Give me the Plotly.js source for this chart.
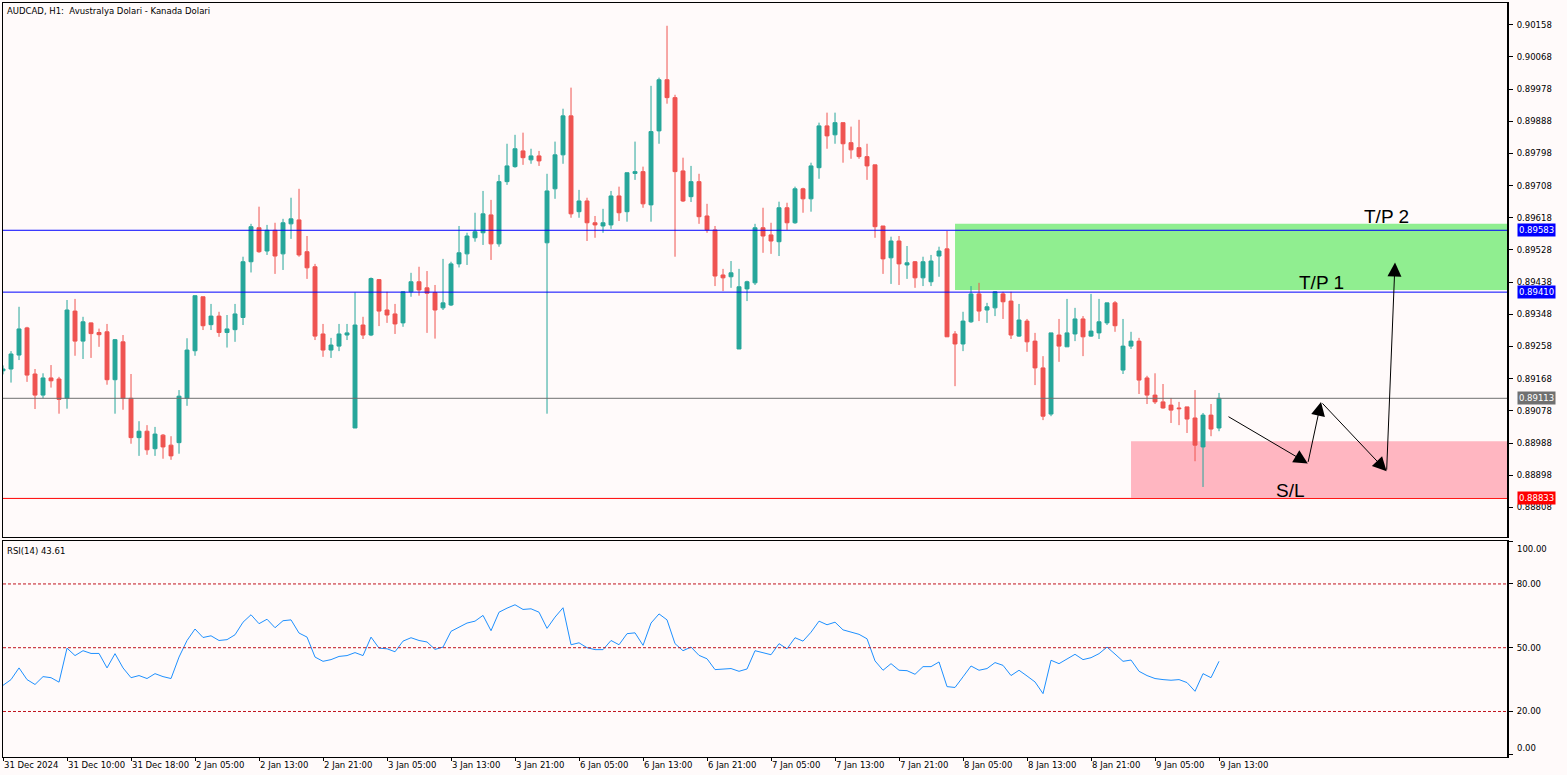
<!DOCTYPE html>
<html><head><meta charset="utf-8">
<script src="https://cdn.plot.ly/plotly-3.0.1.min.js"></script>
<style>html,body{margin:0;padding:0;background:#FFFAFA;overflow:hidden}#chart{width:1567px;height:775px}</style>
</head><body><div id="chart"></div>
<script>
const chartTitle = "AUDCAD, H1:  Avustralya Dolari - Kanada Dolari";
const rsiLabel = "RSI(14) 43.61";

const openP = [0.89190,0.89195,0.89234,0.89310,0.89181,0.89122,0.89170,0.89167,0.89113,0.89357,
0.89273,0.89324,0.89297,0.89299,0.89165,0.89271,0.89113,0.89003,0.89021,0.88972,
0.89010,0.88982,0.88989,0.89113,0.89246,0.89397,0.89319,0.89343,0.89297,0.89305,
0.89339,0.89495,0.89590,0.89525,0.89583,0.89517,0.89601,0.89612,0.89523,0.89481,
0.89293,0.89248,0.89259,0.89290,0.89030,0.89318,0.89290,0.89445,0.89360,0.89349,
0.89324,0.89411,0.89439,0.89422,0.89409,0.89366,0.89374,0.89489,0.89517,0.89562,
0.89576,0.89626,0.89545,0.89719,0.89761,0.89805,0.89780,0.89791,0.89548,0.89699,
0.89794,0.89903,0.89635,0.89665,0.89604,0.89595,0.89598,0.89679,0.89635,0.89742,
0.89747,0.89654,0.89861,0.90004,0.89954,0.89749,0.89677,0.89719,0.89623,0.89584,
0.89458,0.89453,0.89251,0.89419,0.89436,0.89590,0.89570,0.89551,0.89646,0.89604,
0.89699,0.89671,0.89758,0.89875,0.89850,0.89884,0.89828,0.89814,0.89789,0.89766,
0.89595,0.89506,0.89553,0.89486,0.89495,0.89450,0.89439,0.89511,0.89531,0.89293,
0.89265,0.89327,0.89405,0.89360,0.89366,0.89405,0.89385,0.89287,0.89329,0.89273,
0.89198,0.89069,0.89290,0.89257,0.89293,0.89335,0.89287,0.89296,0.89324,0.89380,
0.89192,0.89259,0.89273,0.89170,0.89122,0.89103,0.89094,0.89086,0.89089,0.89058,
0.88977,0.89066,0.89030];

const highP = [0.89205,0.89245,0.89369,0.89313,0.89195,0.89183,0.89206,0.89173,0.89388,0.89391,
0.89341,0.89325,0.89308,0.89321,0.89279,0.89290,0.89181,0.89049,0.89038,0.89033,
0.89013,0.89007,0.89136,0.89281,0.89400,0.89397,0.89377,0.89355,0.89346,0.89377,
0.89509,0.89601,0.89649,0.89598,0.89604,0.89615,0.89674,0.89699,0.89567,0.89489,
0.89321,0.89282,0.89321,0.89321,0.89409,0.89341,0.89451,0.89445,0.89411,0.89377,
0.89413,0.89464,0.89481,0.89469,0.89430,0.89503,0.89495,0.89595,0.89576,0.89632,
0.89693,0.89668,0.89738,0.89825,0.89850,0.89856,0.89811,0.89805,0.89741,0.89831,
0.89923,0.89982,0.89696,0.89674,0.89623,0.89643,0.89693,0.89705,0.89744,0.89831,
0.89761,0.89987,0.90010,0.90155,0.89962,0.89786,0.89763,0.89741,0.89657,0.89595,
0.89475,0.89497,0.89475,0.89442,0.89601,0.89646,0.89604,0.89663,0.89660,0.89705,
0.89702,0.89772,0.89884,0.89912,0.89912,0.89884,0.89873,0.89892,0.89825,0.89766,
0.89595,0.89565,0.89567,0.89539,0.89497,0.89509,0.89514,0.89537,0.89581,0.89301,
0.89355,0.89427,0.89436,0.89380,0.89413,0.89411,0.89411,0.89377,0.89335,0.89296,
0.89231,0.89296,0.89335,0.89391,0.89366,0.89343,0.89405,0.89391,0.89380,0.89385,
0.89335,0.89299,0.89282,0.89176,0.89183,0.89153,0.89114,0.89103,0.89089,0.89136,
0.89072,0.89097,0.89128];

const lowP = [0.89180,0.89157,0.89220,0.89159,0.89083,0.89113,0.89143,0.89070,0.89084,0.89232,
0.89223,0.89226,0.89257,0.89151,0.89070,0.89081,0.88986,0.88952,0.88955,0.88952,
0.88944,0.88941,0.88958,0.89092,0.89232,0.89304,0.89304,0.89285,0.89255,0.89271,
0.89318,0.89465,0.89520,0.89514,0.89461,0.89472,0.89559,0.89509,0.89447,0.89276,
0.89229,0.89226,0.89245,0.89276,0.89030,0.89279,0.89287,0.89315,0.89324,0.89293,
0.89313,0.89397,0.89400,0.89296,0.89280,0.89360,0.89371,0.89479,0.89486,0.89551,
0.89542,0.89500,0.89537,0.89710,0.89758,0.89766,0.89769,0.89763,0.89070,0.89671,
0.89769,0.89618,0.89618,0.89553,0.89562,0.89576,0.89587,0.89609,0.89607,0.89724,
0.89646,0.89607,0.89825,0.89937,0.89509,0.89662,0.89662,0.89601,0.89576,0.89427,
0.89413,0.89422,0.89251,0.89385,0.89430,0.89520,0.89517,0.89511,0.89584,0.89601,
0.89632,0.89635,0.89727,0.89811,0.89825,0.89772,0.89783,0.89783,0.89724,0.89562,
0.89461,0.89433,0.89430,0.89447,0.89422,0.89427,0.89427,0.89453,0.89285,0.89147,
0.89245,0.89324,0.89329,0.89324,0.89343,0.89335,0.89279,0.89285,0.89243,0.89150,
0.89052,0.89063,0.89215,0.89257,0.89273,0.89231,0.89285,0.89279,0.89318,0.89299,
0.89181,0.89251,0.89125,0.89097,0.89097,0.89084,0.89044,0.89038,0.89016,0.88937,
0.88865,0.89007,0.89021];

const closeP = [0.89195,0.89237,0.89307,0.89178,0.89122,0.89170,0.89162,0.89110,0.89360,0.89273,
0.89327,0.89294,0.89291,0.89165,0.89277,0.89113,0.89003,0.89021,0.88969,0.89013,
0.88977,0.88952,0.89119,0.89248,0.89400,0.89316,0.89343,0.89297,0.89307,0.89349,
0.89495,0.89593,0.89523,0.89583,0.89511,0.89604,0.89615,0.89514,0.89478,0.89287,
0.89248,0.89262,0.89293,0.89296,0.89318,0.89290,0.89448,0.89357,0.89346,0.89321,
0.89411,0.89439,0.89416,0.89407,0.89360,0.89380,0.89489,0.89520,0.89567,0.89579,
0.89629,0.89545,0.89719,0.89763,0.89811,0.89786,0.89791,0.89777,0.89693,0.89794,
0.89903,0.89629,0.89665,0.89604,0.89598,0.89604,0.89679,0.89632,0.89744,0.89747,
0.89657,0.89859,0.90004,0.89954,0.89747,0.89665,0.89719,0.89621,0.89584,0.89455,
0.89450,0.89464,0.89425,0.89439,0.89590,0.89567,0.89553,0.89646,0.89604,0.89699,
0.89671,0.89763,0.89875,0.89847,0.89884,0.89825,0.89808,0.89789,0.89763,0.89593,
0.89503,0.89553,0.89489,0.89492,0.89450,0.89495,0.89497,0.89525,0.89285,0.89265,
0.89329,0.89405,0.89357,0.89369,0.89411,0.89383,0.89290,0.89332,0.89271,0.89198,
0.89063,0.89296,0.89259,0.89296,0.89335,0.89285,0.89301,0.89327,0.89380,0.89316,
0.89259,0.89273,0.89164,0.89122,0.89103,0.89086,0.89080,0.89084,0.89055,0.88982,
0.89066,0.89027,0.89113];

const rsi14 = [32.3,35.0,40.5,35.0,32.7,36.4,35.9,33.8,49.8,46.3,
48.6,47.3,47.3,40.5,47.2,40.5,35.9,36.9,35.5,37.8,
36.4,35.5,45.6,53.4,58.8,54.8,55.6,53.4,53.8,56.1,
62.0,65.5,61.3,63.4,59.4,62.7,63.1,56.9,55.0,45.6,
43.6,44.4,45.9,46.3,47.7,46.3,55.0,49.8,49.5,48.1,
53.1,54.7,53.4,52.7,49.2,50.3,57.7,59.5,61.6,62.5,
65.2,58.0,66.7,68.6,70.2,68.0,68.3,66.7,59.1,64.4,
68.8,51.4,52.3,50.0,49.1,49.1,53.4,51.4,56.6,57.0,
51.1,61.6,65.9,63.1,51.9,48.6,50.3,46.4,44.8,39.7,
39.8,40.2,38.9,40.0,48.6,47.7,46.7,51.9,49.5,54.7,
53.1,57.3,62.5,60.8,62.0,58.4,57.3,56.3,54.2,43.8,
39.4,42.5,39.4,39.2,37.5,41.1,41.1,43.3,31.7,31.3,
36.3,41.4,39.4,40.2,43.0,41.7,36.9,39.4,36.7,33.9,
28.4,44.1,42.5,44.5,46.9,44.4,45.3,47.2,50.3,47.0,
43.6,44.2,38.9,36.9,35.5,35.0,34.7,35.0,33.6,29.5,
37.8,35.9,43.61];

const timeTickIdx = [0,8,16,24,32,40,48,56,64,72,80,88,96,104,112,120,128,136,144,152];
const timeTickText = ["31 Dec 2024","31 Dec 10:00","31 Dec 18:00","2 Jan 05:00","2 Jan 13:00","2 Jan 21:00",
"3 Jan 05:00","3 Jan 13:00","3 Jan 21:00","6 Jan 05:00","6 Jan 13:00","6 Jan 21:00","7 Jan 05:00",
"7 Jan 13:00","7 Jan 21:00","8 Jan 05:00","8 Jan 13:00","8 Jan 21:00","9 Jan 05:00","9 Jan 13:00"];

const priceTicks = [0.90158,0.90068,0.89978,0.89888,0.89798,0.89708,0.89618,0.89528,0.89438,0.89348,0.89258,0.89168,0.89078,0.88988,0.88898,0.88808];
const rsiTicks = [0,20,50,80,100];
const rsiLevels = [20,50,80];

// horizontal levels: TP2, TP1, current bid, SL
const levelNames = ["TP2","TP1","Bid","SL"];
const levelPrices = [0.89583,0.89410,0.89113,0.88833];

// zones (bar index, price)
const tpZone = {x0:119, x1:188, y0:0.89416, y1:0.89601};
const slZone = {x0:141, x1:188.25, y0:0.88835, y1:0.88993};

// projected path drawn with arrows (bar index, price)
const pathIdx = [153.0,163.1,164.75,172.95,174.0];
const pathPrice = [0.89064,0.88931,0.89103,0.88909,0.89493];

const zoneLabels = ["T/P 2","T/P 1","S/L"];
const zoneLabelIdx = [172.9,164.75,160.9];
const zoneLabelPrice = [0.89621,0.89436,0.88856];

const barIdx = openP.map((_, i) => i);
const fmt = v => v.toFixed(5);

const data = [
  {type:'candlestick', x:barIdx, open:openP, high:highP, low:lowP, close:closeP,
   xaxis:'x', yaxis:'y', whiskerwidth:0, hoverinfo:'skip',
   increasing:{line:{color:'#26A69A', width:1}, fillcolor:'#26A69A'},
   decreasing:{line:{color:'#EF5350', width:1}, fillcolor:'#EF5350'}},
  {type:'scatter', mode:'lines', x:barIdx, y:rsi14, xaxis:'x2', yaxis:'y2',
   line:{color:'#1E90FF', width:1}, hoverinfo:'skip'}
];

const levelColors = ['#0000FF','#0000FF','#707070','#FF0000'];
const shapes = [
  {type:'rect', xref:'x', yref:'y', x0:tpZone.x0, x1:tpZone.x1, y0:tpZone.y0, y1:tpZone.y1,
   fillcolor:'#90EE90', line:{width:0}, layer:'below'},
  {type:'rect', xref:'x', yref:'y', x0:slZone.x0, x1:slZone.x1, y0:slZone.y0, y1:slZone.y1,
   fillcolor:'#FFB6C1', line:{width:0}, layer:'below'}
];
levelPrices.forEach((p, i) => shapes.push({type:'line', xref:'paper', yref:'y', x0:0, x1:1, y0:p, y1:p,
  line:{color:levelColors[i], width:1}}));
rsiLevels.forEach(v => shapes.push({type:'line', xref:'paper', yref:'y2', x0:0, x1:1, y0:v, y1:v,
  line:{color:'#C0141E', width:1, dash:'3px,2px'}}));
// thicker right borders
shapes.push({type:'line', xref:'paper', yref:'y domain', x0:1, x1:1, y0:0, y1:1, line:{color:'#000', width:2}});
shapes.push({type:'line', xref:'paper', yref:'y2 domain', x0:1, x1:1, y0:0, y1:1, line:{color:'#000', width:2}});

const annotations = [
  {xref:'paper', yref:'paper', x:0, y:1, xanchor:'left', yanchor:'top', xshift:2, yshift:-1,
   text:chartTitle, showarrow:false, font:{size:8.5, color:'#000'}},
  {xref:'paper', yref:'y2 domain', x:0, y:1, xanchor:'left', yanchor:'top', xshift:2, yshift:-3,
   text:rsiLabel, showarrow:false, font:{size:8.5, color:'#000'}},
  // end labels of the RSI scale sit just inside the pane, as in the terminal
  {xref:'paper', yref:'y2', x:1, y:100, xanchor:'left', yanchor:'top', xshift:7, yshift:-1,
   text:(100).toFixed(2), showarrow:false, font:{size:8.5, color:'#000'}},
  {xref:'paper', yref:'y2', x:1, y:0, xanchor:'left', yanchor:'middle', xshift:7, yshift:6,
   text:(0).toFixed(2), showarrow:false, font:{size:8.5, color:'#000'}}
];
levelPrices.forEach((p, i) => annotations.push({xref:'paper', yref:'y', x:1, y:p, xanchor:'left', yanchor:'middle',
  xshift:9, text:fmt(p), showarrow:false, bgcolor:levelColors[i], borderpad:1,
  font:{size:8.5, color:'#FFFFFF'}}));
zoneLabels.forEach((t, i) => annotations.push({xref:'x', yref:'y', x:zoneLabelIdx[i], y:zoneLabelPrice[i],
  text:t, showarrow:false, font:{family:'Liberation Sans, Arial, sans-serif', size:19, color:'#000'}}));
for (let i = 1; i < pathIdx.length; i++) {
  annotations.push({xref:'x', yref:'y', axref:'x', ayref:'y', x:pathIdx[i], y:pathPrice[i],
    ax:pathIdx[i-1], ay:pathPrice[i-1], text:'', showarrow:true, arrowhead:2, arrowsize:2.8,
    arrowwidth:1, arrowcolor:'#000', standoff:0, startstandoff:0});
}

const axisCommon = {showgrid:false, zeroline:false, showline:true, mirror:true, linecolor:'#000', linewidth:1,
  fixedrange:true, tickfont:{size:8.5, color:'#000'}, tickcolor:'#000'};
const xRange = [-0.002, 188.123];

const layout = {
  width:1567, height:775, margin:{l:3, r:59, t:3, b:18, pad:0},
  paper_bgcolor:'#FFFAFA', plot_bgcolor:'#FFFAFA', showlegend:false, dragmode:false,
  font:{family:'DejaVu Sans, Verdana, sans-serif', size:8.5, color:'#000'},
  xaxis:Object.assign({}, axisCommon, {domain:[0,1], range:xRange, anchor:'y',
    showticklabels:false, ticks:'', rangeslider:{visible:false}}),
  yaxis:Object.assign({}, axisCommon, {domain:[0.29178,1], range:[0.887251,0.902187], anchor:'x', side:'right',
    tickvals:priceTicks, ticktext:priceTicks.map(fmt), ticks:'outside', ticklen:4, ticklabelstandoff:2}),
  xaxis2:Object.assign({}, axisCommon, {domain:[0,1], range:xRange, anchor:'y2', tickangle:0,
    tickvals:timeTickIdx, ticktext:timeTickText, ticks:'outside', ticklen:3, ticklabelposition:'outside right'}),
  yaxis2:Object.assign({}, axisCommon, {domain:[0,0.28647], range:[-1.41,100.2], anchor:'x2', side:'right',
    tickvals:rsiTicks, ticktext:rsiTicks.map(v => (v === 0 || v === 100) ? '' : v.toFixed(2)),
    ticks:'outside', ticklen:4, ticklabelstandoff:2}),
  shapes:shapes, annotations:annotations
};

Plotly.newPlot('chart', data, layout, {staticPlot:true, displayModeBar:false});
</script></body></html>
